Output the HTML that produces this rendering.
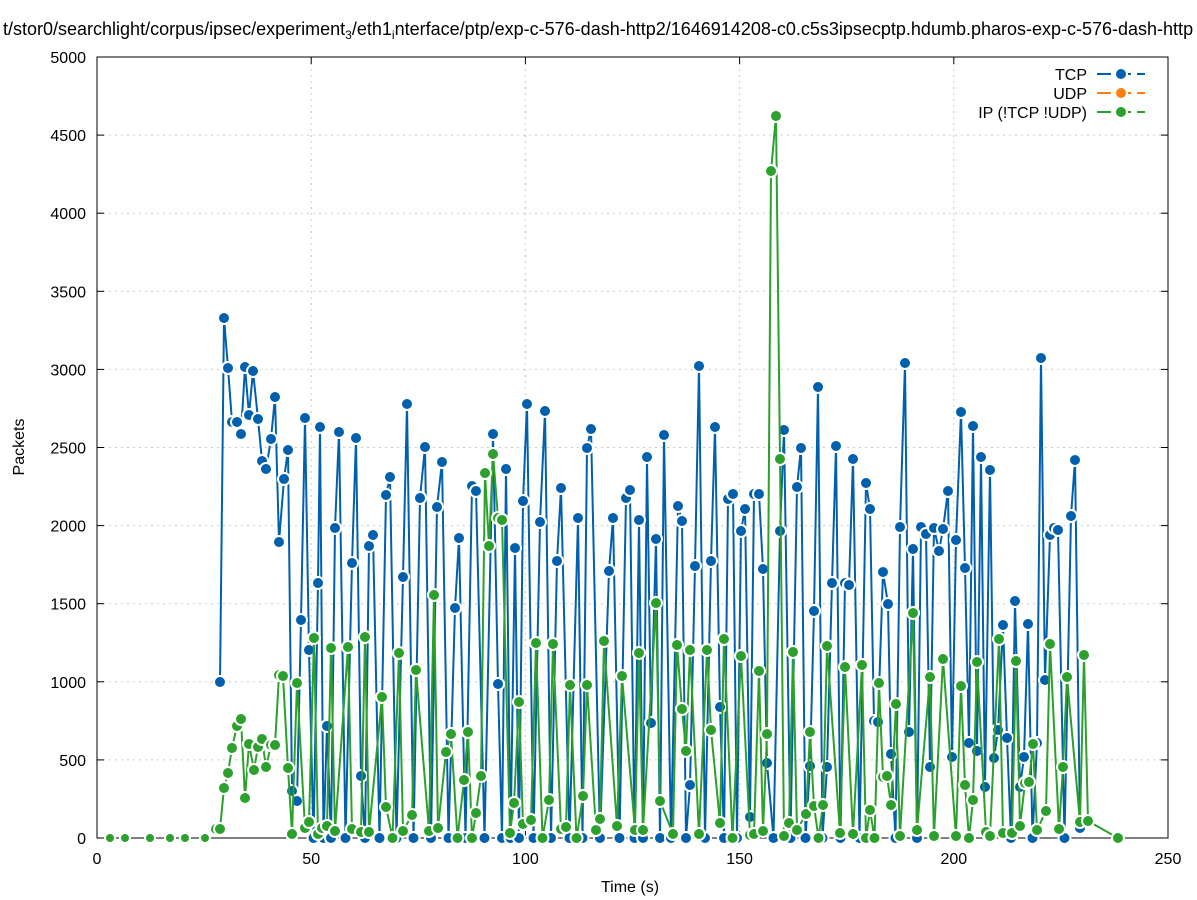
<!DOCTYPE html>
<html><head><meta charset="utf-8"><style>
body{margin:0;background:#fff}
svg{display:block;font-family:"Liberation Sans","DejaVu Sans",sans-serif}
</style></head><body>
<svg id="s" width="1197" height="900" xmlns="http://www.w3.org/2000/svg">
<rect width="1197" height="900" fill="#fff"/>
<text x="3" y="35" font-size="18" fill="#000">t/stor0/searchlight/corpus/ipsec/experiment<tspan font-size="12" dy="4">3</tspan><tspan dy="-4">/eth1</tspan><tspan font-size="12" dy="4">i</tspan><tspan dy="-4">nterface/ptp/exp-c-576-dash-http2/1646914208-c0.c5s3ipsecptp.hdumb.pharos-exp-c-576-dash-http</tspan></text>
<g id="grid"></g>
<rect x="97" y="57" width="1071" height="781" fill="none" stroke="#000" stroke-width="1"/>
<g id="ticks" font-size="16"></g>
<text x="630" y="892" font-size="16" text-anchor="middle">Time (s)</text>
<text transform="translate(24,447) rotate(-90)" font-size="16" text-anchor="middle">Packets</text>
<g id="series"></g>
<g font-size="16" text-anchor="end">
<text x="1087" y="80">TCP</text>
<text x="1087" y="99">UDP</text>
<text x="1087" y="118">IP (!TCP  !UDP)</text>
<line x1="1097" y1="74" x2="1145" y2="74" stroke="#0060ad" stroke-width="2" stroke-dasharray="14,6"/>
<circle cx="1121" cy="74" r="6" fill="#0060ad" stroke="#fff" stroke-width="2"/>
<line x1="1097" y1="93" x2="1145" y2="93" stroke="#ff7f0e" stroke-width="2" stroke-dasharray="14,6"/>
<circle cx="1121" cy="93" r="6" fill="#ff7f0e" stroke="#fff" stroke-width="2"/>
<line x1="1097" y1="112" x2="1145" y2="112" stroke="#2ca02c" stroke-width="2" stroke-dasharray="14,6"/>
<circle cx="1121" cy="112" r="6" fill="#2ca02c" stroke="#fff" stroke-width="2"/>
</g>
</svg>
<script>
const NS="http://www.w3.org/2000/svg";
function el(p,t,a,txt){const e=document.createElementNS(NS,t);for(const k in a)e.setAttribute(k,a[k]);if(txt!==undefined)e.textContent=txt;p.appendChild(e);return e;}
const g=document.getElementById("grid"),tk=document.getElementById("ticks"),sr=document.getElementById("series");
for(let i=0;i<=10;i++){const y=838-i*78.1;
 if(i>0&&i<10)el(g,"line",{x1:97,x2:1168,y1:y,y2:y,stroke:"#ccc","stroke-dasharray":"2,4"});
 el(tk,"line",{x1:97,x2:104,y1:y,y2:y,stroke:"#000"});el(tk,"line",{x1:1161,x2:1168,y1:y,y2:y,stroke:"#000"});
 el(tk,"text",{x:86,y:y+6,"text-anchor":"end"},String(i*500));}
for(let i=0;i<=5;i++){const x=97+i*214.2;
 if(i>0&&i<5)el(g,"line",{x1:x,x2:x,y1:57,y2:838,stroke:"#ccc","stroke-dasharray":"2,4"});
 el(tk,"line",{x1:x,x2:x,y1:838,y2:831,stroke:"#000"});el(tk,"line",{x1:x,x2:x,y1:57,y2:64,stroke:"#000"});
 el(tk,"text",{x:x,y:864,"text-anchor":"middle"},String(i*50));}
const tcp=[[220,682],[224,318],[228,368],[232,422],[237,422],[241,434],[245,367],[249,415],[253,371],[258,419],[262,461],[266,469],[271,439],[275,397],[279,542],[284,479],[288,450],[292,791],[297,801],[301,620],[305,418],[309,650],[318,583],[320,427],[327,726],[335,528],[339,432],[352,563],[356,438],[361,776],[369,546],[373,535],[386,495],[390,477],[403,577],[407,404],[420,498],[425,447],[437,507],[442,462],[455,608],[459,538],[472,486],[476,491],[493,434],[498,684],[506,469],[515,548],[523,501],[527,404],[540,522],[545,411],[557,561],[561,488],[578,518],[587,448],[591,429],[609,571],[613,518],[626,498],[630,490],[639,520],[647,457],[651,723],[656,539],[664,435],[678,506],[682,521],[690,785],[695,566],[699,366],[711,561],[715,427],[720,707],[728,499],[733,494],[741,531],[745,509],[750,817],[754,494],[759,494],[763,569],[767,763],[780,531],[784,430],[797,487],[801,448],[810,766],[814,611],[818,387],[827,767],[832,583],[836,446],[845,583],[849,585],[853,459],[866,483],[870,509],[874,721],[878,722],[883,572],[888,604],[891,754],[900,527],[905,363],[909,732],[913,549],[921,527],[926,534],[930,767],[934,528],[939,551],[943,529],[948,491],[952,757],[956,540],[961,412],[965,568],[969,743],[973,426],[977,751],[981,457],[985,787],[990,470],[994,758],[998,730],[1003,625],[1007,738],[1015,601],[1020,787],[1024,757],[1028,624],[1037,743],[1041,358],[1045,680],[1050,535],[1054,528],[1058,530],[1071,516],[1075,460],[1080,828]];
const ip=[[216,829],[220,829],[224,788],[228,773],[232,748],[237,726],[241,719],[245,798],[249,744],[254,770],[258,747],[262,739],[266,767],[271,745],[275,745],[279,675],[283,676],[288,768],[292,834],[297,683],[305,828],[309,822],[314,638],[318,834],[322,828],[327,826],[331,648],[335,831],[348,647],[352,829],[361,832],[365,637],[369,832],[382,697],[386,807],[399,653],[403,831],[412,815],[416,670],[429,831],[434,595],[438,828],[446,752],[451,734],[464,780],[468,732],[476,813],[481,776],[485,473],[489,546],[493,454],[498,518],[502,520],[510,833],[514,803],[519,702],[523,824],[531,820],[536,643],[549,800],[553,644],[561,829],[566,827],[570,685],[583,796],[587,685],[596,830],[600,819],[604,641],[617,826],[622,676],[635,830],[639,653],[643,830],[656,603],[660,801],[673,834],[677,645],[682,709],[686,751],[690,650],[699,834],[707,650],[711,730],[720,823],[724,639],[741,656],[750,835],[754,834],[759,671],[763,831],[767,734],[771,171],[776,116],[780,459],[784,836],[789,823],[793,652],[797,830],[806,814],[810,732],[814,806],[823,805],[827,646],[840,833],[845,667],[853,834],[862,665],[866,838],[870,810],[879,683],[883,777],[887,776],[891,805],[896,704],[900,836],[913,613],[917,830],[930,677],[934,836],[943,659],[956,836],[961,686],[965,785],[973,800],[977,662],[986,832],[990,836],[999,639],[1003,833],[1012,833],[1016,661],[1020,826],[1025,783],[1029,782],[1033,744],[1037,830],[1046,811],[1050,644],[1059,829],[1063,767],[1067,677],[1080,822],[1084,655],[1088,821],[1118,838]];
function fill(a){const o=[a[0]];for(let i=1;i<a.length;i++){const p=a[i-1],q=a[i];if(q[0]-p[0]>=7&&p[1]<820&&q[1]<820)o.push([(p[0]+q[0])/2,838]);o.push(q);}return o;}
function draw(a,c){const p=fill(a);el(sr,"polyline",{points:p.map(v=>v.join(",")).join(" "),fill:"none",stroke:c,"stroke-width":2});
 p.forEach(v=>el(sr,"circle",{cx:v[0],cy:v[1],r:6,fill:c,stroke:"#fff","stroke-width":2}));}
[[110,838],[125,838],[150,838],[170,838],[185,838],[205,838]].forEach(v=>el(sr,"circle",{cx:v[0],cy:v[1],r:5,fill:"#2ca02c",stroke:"#fff","stroke-width":2}));
draw(tcp,"#0060ad");draw(ip,"#2ca02c");
</script>
</body></html>
